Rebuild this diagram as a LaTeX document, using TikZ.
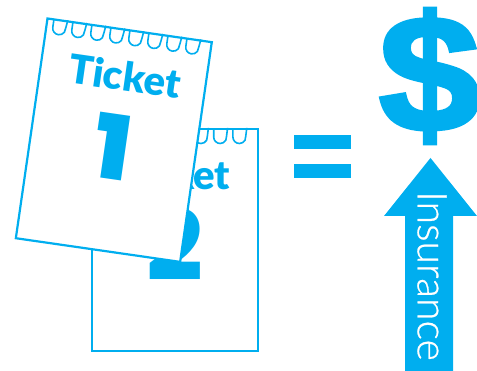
\documentclass[tikz,border=0pt]{standalone}
\usepackage{fontspec}
\setmainfont{Lato}
\newfontfamily\ticketfont{Lato Black}
\newfontfamily\numfont{Poppins Black}
\newfontfamily\dollarfont[FakeBold=2.5]{Liberation Sans Bold}
\newfontfamily\arrowfont[FakeBold=0.6]{Lato Light}
\usepackage{tikz}
\definecolor{ticketblue}{HTML}{00AEEF}

\tikzset{
    x=1pt, y=1pt,
    sheet/.style={draw=ticketblue, line width=2.2pt, fill=white},
    coil/.style={draw=ticketblue, line width=1.6pt},
    ticketword/.style={text=ticketblue, anchor=base, inner sep=0pt, font=\fontsize{40}{40}\selectfont\ticketfont},
    ticketnum/.style={text=ticketblue, anchor=base, inner sep=0pt, font=\fontsize{97}{97}\selectfont\numfont},
    ticket/.pic={
        \draw[sheet] (0,0) rectangle (166,-222);
        \foreach \i in {0,...,7} {
            \draw[coil] ({13+19.2*\i-6.5},0) -- ++(0,-8) arc[start angle=180, end angle=370, radius=6.5] -- ++(1,8);
        }
    }
}

\begin{document}
\begin{tikzpicture}
    \useasboundingbox (0,0) rectangle (477,371);

    % --- Ticket 2 (derriere) ---
    \pic at (92,242) {ticket};
    \node[ticketword] (word2) at (174,181) {Ticket};
    \node[ticketnum] (num2) at (175,90) {2};

    % --- Ticket 1 (devant) ---
    \pic[rotate=-8.2] at (47.5,352.5) {ticket};
    \begin{scope}[shift={(47.5,352.5)}, rotate=-8.2]
        \node[ticketword, transform shape] (word1) at (85,-61) {Ticket};
        \node[ticketnum, transform shape, scale=0.92] (num1) at (83,-150) {1};
    \end{scope}

    % --- Signe egal ---
    \fill[ticketblue] (294,236) rectangle (351,222);
    \fill[ticketblue] (294,207) rectangle (351,193);

    % --- Dollar ---
    \node[text=ticketblue, inner sep=0pt, xscale=1.1] (dollar) at (429.5,295)
        {\fontsize{165}{165}\selectfont\dollarfont \$};

    % --- Fleche Insurance ---
    \fill[ticketblue] (430.5,213) -- (477,155) -- (453,155) -- (453,0) -- (405,0) -- (405,155) -- (384,155) -- cycle;
    \node[text=white, rotate=-90, inner sep=0pt] (insurance) at (432,95)
        {\fontsize{41}{41}\selectfont\arrowfont Insurance};
\end{tikzpicture}
\end{document}
